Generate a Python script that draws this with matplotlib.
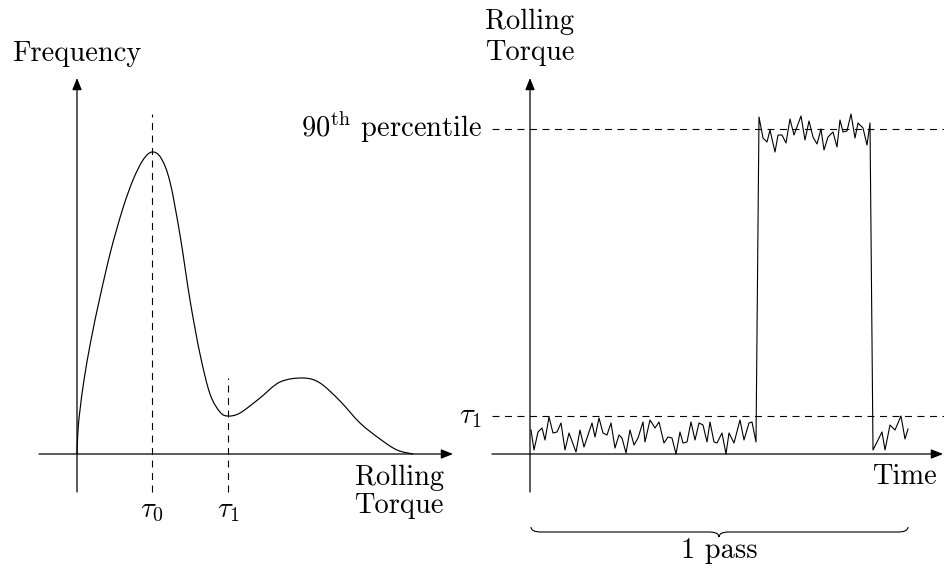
import matplotlib
matplotlib.use('Agg')
import matplotlib.pyplot as plt
from matplotlib.path import Path
from matplotlib.patches import PathPatch

plt.rcParams['font.family'] = 'cmr10'
plt.rcParams['mathtext.fontset'] = 'cm'
plt.rcParams['axes.formatter.use_mathtext'] = True
plt.rcParams['lines.scale_dashes'] = False

# left panel: torque distribution (arbitrary units)
curve_x = [0, 1, 3, 7, 14, 23, 34, 46, 56, 66, 75, 84, 93, 103, 113, 123, 133,
           143, 151, 163, 183, 203, 226, 243, 263, 283, 303, 320, 336]
curve_y = [0, 24, 44, 74, 114, 157, 204, 246, 274, 294, 302, 296, 272, 219, 154,
           100, 60, 42, 38, 41, 56, 72, 76, 71, 53, 31, 15, 4, 0]
tau0 = 75
tau1 = 151

# right panel: torque signal over one pass
low_t = [1, 4, 8, 12, 15, 19, 23, 27, 31, 35, 39, 46, 50, 54, 62, 65, 69, 73, 77, 81,
         85, 89, 92, 96, 100, 104, 108, 113, 115, 120, 125, 129, 134, 138, 142, 146,
         150, 153, 157, 161, 165, 169, 173, 177, 180, 184, 187, 192, 196, 199, 204,
         210, 214, 219, 222, 226]
low_h = [24, 4, 22, 26, 14, 37, 21, 22, 31, 4, 21, 2, 24, 7, 31, 17, 36, 21, 19, 31,
         6, 19, 16, 1, 24, 9, 16, 32, 12, 34, 26, 32, 11, 17, 16, 0, 22, 11, 12, 32,
         14, 31, 29, 12, 32, 12, 11, 21, 0, 21, 11, 34, 14, 31, 32, 12]
high_t = [229, 233, 237, 240, 245, 248, 252, 256, 260, 264, 271, 275, 279, 283, 287,
          291, 294, 298, 303, 307, 310, 313, 317, 321, 325, 328, 333, 337, 340]
high_h = [337, 316, 312, 324, 302, 319, 319, 311, 335, 319, 338, 314, 333, 317, 310,
          325, 304, 317, 322, 307, 334, 322, 323, 340, 316, 331, 326, 309, 331]
tail_t = [343, 352, 355, 360, 365, 371, 375, 378]
tail_h = [4, 22, 4, 29, 24, 38, 15, 25]
p90 = 325
tau1_level = 38
pass_len = 378

fig = plt.figure(figsize=(9.44, 5.67), dpi=100)

arrow = dict(arrowstyle='-|>,head_length=0.65,head_width=0.26', lw=0.9,
             color='black', mutation_scale=11, shrinkA=0, shrinkB=0)
dash = dict(color='black', lw=0.8, dashes=(5, 4))
fs = 20.5


def draw_axes(ax, xmax, ymax):
    ax.annotate('', xy=(xmax, 0), xytext=(-38, 0), arrowprops=arrow)
    ax.annotate('', xy=(0, ymax), xytext=(0, -38), arrowprops=arrow)


def smooth_path(xs, ys):
    # Catmull-Rom through the points, drawn as cubic Bezier segments
    pts = list(zip(xs, ys))
    verts = [pts[0]]
    codes = [Path.MOVETO]
    for i in range(len(pts) - 1):
        p0 = pts[max(i - 1, 0)]
        p1 = pts[i]
        p2 = pts[i + 1]
        p3 = pts[min(i + 2, len(pts) - 1)]
        c1 = (p1[0] + (p2[0] - p0[0]) / 6, p1[1] + (p2[1] - p0[1]) / 6)
        c2 = (p2[0] - (p3[0] - p1[0]) / 6, p2[1] - (p3[1] - p1[1]) / 6)
        verts += [c1, c2, p2]
        codes += [Path.CURVE4] * 3
    return Path(verts, codes)


# ---- left panel
ax1 = fig.add_axes([0, 0, 1, 1])
ax1.set_xlim(-77, 867)
ax1.set_ylim(-113, 454)
ax1.axis('off')
draw_axes(ax1, 376, 376)
ax1.add_patch(PathPatch(smooth_path(curve_x, curve_y), fill=False, lw=0.85, color='black'))
ax1.plot([tau0, tau0], [-38, 340], **dash)
ax1.plot([tau1, tau1], [-38, 76], **dash)
ax1.text(-65, 393, 'Frequency', fontsize=fs, va='baseline')
ax1.text(367, -31, 'Rolling', fontsize=fs, ha='right', va='baseline')
ax1.text(367, -59, 'Torque', fontsize=fs, ha='right', va='baseline')
ax1.text(tau0, -63, r'$\tau_0$', fontsize=fs, ha='center', va='baseline')
ax1.text(tau1, -63, r'$\tau_1$', fontsize=fs, ha='center', va='baseline')

# ---- right panel
ax2 = fig.add_axes([0, 0, 1, 1])
ax2.set_xlim(-530, 414)
ax2.set_ylim(-113, 454)
ax2.axis('off')
ax2.patch.set_alpha(0)
draw_axes(ax2, 413, 376)
ax2.plot([-38, 414], [p90, p90], **dash)
ax2.plot([-38, 414], [tau1_level, tau1_level], **dash)
ax2.plot(low_t + high_t + tail_t, low_h + high_h + tail_h, color='black', lw=0.8)
ax2.text(-45, 425, 'Rolling', fontsize=fs, va='baseline')
ax2.text(-45, 394, 'Torque', fontsize=fs, va='baseline')
ax2.text(-48, 317, r'$90^{\mathrm{th}}$ percentile', fontsize=fs, ha='right', va='baseline')
ax2.text(-48, 31, r'$\tau_1$', fontsize=fs, ha='right', va='baseline')
ax2.text(342, -30, 'Time', fontsize=fs, va='baseline')

# brace under the pass
mid = pass_len / 2
yb, amp = -78, 5
verts = [(1, yb + amp), (1, yb), (11, yb), (mid - 10, yb), (mid, yb), (mid, yb - amp),
         (mid, yb), (mid + 10, yb), (pass_len - 10, yb), (pass_len, yb), (pass_len, yb + amp)]
codes = [Path.MOVETO, Path.CURVE3, Path.CURVE3, Path.LINETO, Path.CURVE3, Path.CURVE3,
         Path.CURVE3, Path.CURVE3, Path.LINETO, Path.CURVE3, Path.CURVE3]
ax2.add_patch(PathPatch(Path(verts, codes), fill=False, lw=0.8, color='black'))
ax2.text(mid, -104, '1 pass', fontsize=fs, ha='center', va='baseline')

fig.savefig('out.png', dpi=100)
